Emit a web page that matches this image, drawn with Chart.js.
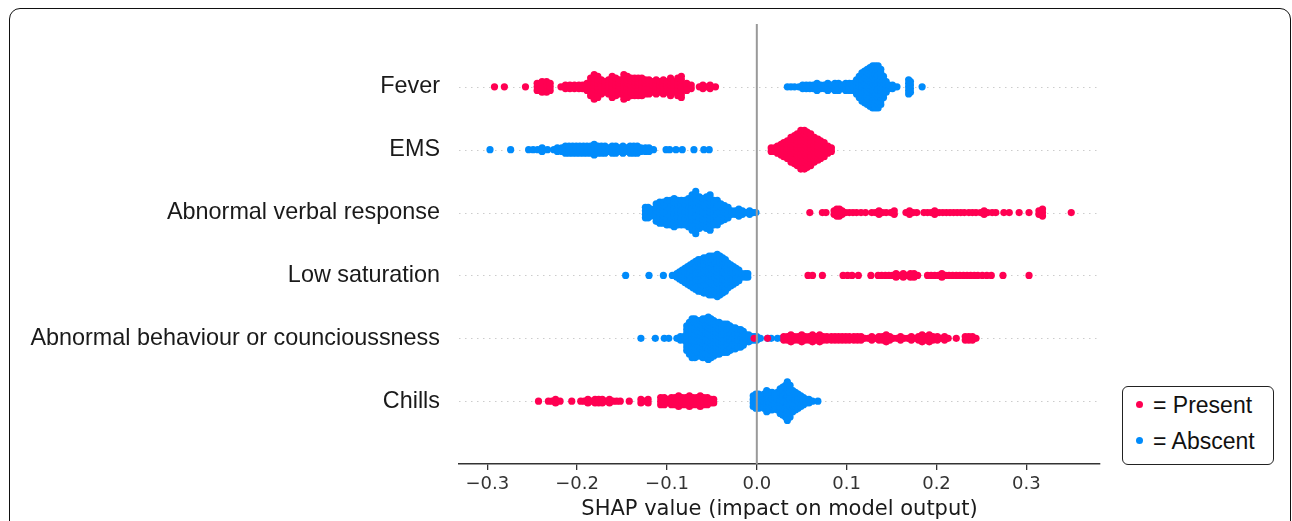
<!DOCTYPE html>
<html>
<head>
<meta charset="utf-8">
<script src="https://cdn.jsdelivr.net/npm/chart.js@4.4.0/dist/chart.umd.min.js"></script>
<style>
  body { margin:0; background:#fff; overflow:hidden; width:1292px; height:521px; position:relative; }
  #frame { position:absolute; left:9px; top:8px; width:1282px; height:560px; border:1.5px solid #111; border-radius:11px; box-sizing:border-box; }
  #chart { position:absolute; left:0; top:0; }
  #legend { position:absolute; left:1122px; top:386px; width:152px; height:79px; border:1.5px solid #222; border-radius:6px; box-sizing:border-box;
            font-family:'Liberation Sans', Arial, sans-serif; font-size:23px; color:#111; background:#fff; }
  #legend .item { position:absolute; left:13px; height:26px; line-height:26px; white-space:nowrap; }
  #legend .dot { display:inline-block; width:7px; height:7px; border-radius:50%; vertical-align:middle; margin-right:10px; position:relative; top:-2px; }
</style>
</head>
<body>
<div id="frame"></div>
<canvas id="chart" width="1292" height="521"></canvas>
<div id="legend">
  <div class="item" style="top:5px"><span class="dot" style="background:#ff0052"></span>= Present</div>
  <div class="item" style="top:41px"><span class="dot" style="background:#008bfb"></span>= Abscent</div>
</div>
<script>
// features top to bottom
var features = ['Fever', 'EMS', 'Abnormal verbal response', 'Low saturation',
                'Abnormal behaviour or councioussness', 'Chills'];
var xTicks = [-0.3, -0.2, -0.1, 0.0, 0.1, 0.2, 0.3];

// [shap value, dots stacked at that value]
var feverPresent = [[-0.292,1],[-0.281,1],[-0.2575,1],[-0.2445,3],[-0.239,4],[-0.234,4],[-0.230,3],
  [-0.218,1],[-0.213,2],[-0.208,2],[-0.203,2],[-0.198,2],[-0.194,2],[-0.189,3],[-0.185,6],[-0.181,8],[-0.177,7],
  [-0.173,5],[-0.169,4],[-0.165,5],[-0.161,7],[-0.157,6],[-0.153,5],[-0.148,8],[-0.144,7],[-0.140,6],[-0.136,6],
  [-0.132,6],[-0.128,6],[-0.124,5],[-0.120,5],[-0.116,4],[-0.112,5],[-0.108,4],[-0.104,5],[-0.100,4],[-0.096,6],
  [-0.092,4],[-0.088,6],[-0.084,7],[-0.078,3],[-0.073,2],[-0.064,1],[-0.060,2],[-0.055,1],[-0.052,2],[-0.046,1]];
var feverAbsent = [[0.034,1],[0.038,1],[0.042,1],[0.047,1],[0.051,2],[0.055,2],[0.059,2],[0.063,2],[0.067,3],
  [0.071,2],[0.075,2],[0.079,3],[0.083,2],[0.087,3],[0.091,3],[0.095,2],[0.099,3],[0.103,3],[0.107,3],[0.111,5],
  [0.114,7],[0.117,9],[0.120,10],[0.123,11],[0.126,12],[0.129,13],[0.132,13],[0.135,13],[0.138,11],[0.141,7],
  [0.144,4],[0.147,2],[0.151,2],[0.156,1],[0.169,5],[0.171,4],[0.184,1]];
var emsPresent = [[0.016,2],[0.020,2],[0.023,3],[0.027,4],[0.030,5],[0.034,6],[0.038,8],[0.042,9],[0.045,10],
  [0.049,12],[0.053,12],[0.056,11],[0.060,10],[0.064,8],[0.068,7],[0.071,6],[0.075,5],[0.079,3],[0.083,2]];
var emsAbsent = [[-0.297,1],[-0.274,1],[-0.254,1],[-0.249,1],[-0.244,1],[-0.239,2],[-0.233,1],[-0.226,1],
  [-0.222,2],[-0.217,2],[-0.213,3],[-0.209,3],[-0.205,3],[-0.201,3],[-0.197,3],[-0.193,3],[-0.189,3],[-0.185,3],
  [-0.181,4],[-0.177,3],[-0.173,3],[-0.169,3],[-0.165,2],[-0.161,3],[-0.157,3],[-0.153,2],[-0.149,3],[-0.145,2],
  [-0.141,3],[-0.137,3],[-0.133,3],[-0.129,2],[-0.124,2],[-0.120,2],[-0.115,1],[-0.101,1],[-0.097,1],[-0.090,1],
  [-0.083,1],[-0.070,1],[-0.059,1],[-0.053,1]];
var verbalPresent = [[0.059,1],[0.073,1],[0.077,1],[0.086,2],[0.089,3],[0.092,3],[0.095,2],[0.099,1],[0.103,1],
  [0.107,1],[0.111,1],[0.116,1],[0.121,1],[0.128,1],[0.132,1],[0.136,2],[0.140,1],[0.144,1],[0.149,1],[0.153,2],
  [0.166,1],[0.170,2],[0.174,1],[0.178,1],[0.186,1],[0.190,1],[0.194,1],[0.198,2],[0.203,1],[0.207,1],[0.211,1],
  [0.215,1],[0.219,1],[0.223,1],[0.227,1],[0.231,1],[0.236,1],[0.240,1],[0.244,1],[0.249,1],[0.253,2],[0.257,1],
  [0.262,1],[0.266,1],[0.275,1],[0.281,1],[0.292,1],[0.303,1],[0.314,2],[0.318,3],[0.350,1]];
var verbalAbsent = [[-0.124,4],[-0.121,4],[-0.118,3],[-0.112,6],[-0.108,7],[-0.104,7],[-0.100,8],[-0.096,8],
  [-0.092,9],[-0.088,8],[-0.084,8],[-0.080,8],[-0.076,9],[-0.072,11],[-0.068,13],[-0.064,10],[-0.060,9],
  [-0.056,10],[-0.052,11],[-0.048,8],[-0.044,8],[-0.040,6],[-0.036,5],[-0.032,4],[-0.028,2],[-0.024,2],
  [-0.020,3],[-0.016,2],[-0.012,1],[-0.008,2],[-0.004,1],[-0.001,1]];
var lowsatPresent = [[0.057,1],[0.062,1],[0.073,1],[0.096,1],[0.101,1],[0.106,1],[0.113,1],[0.127,1],[0.135,1],
  [0.139,1],[0.143,1],[0.147,1],[0.151,1],[0.155,2],[0.159,1],[0.163,2],[0.167,1],[0.171,2],[0.175,2],[0.179,1],
  [0.190,1],[0.194,1],[0.198,1],[0.202,1],[0.206,2],[0.210,1],[0.214,1],[0.218,1],[0.222,1],[0.226,1],[0.230,1],
  [0.234,1],[0.238,1],[0.242,1],[0.246,1],[0.251,1],[0.256,1],[0.261,1],[0.274,1],[0.303,1]];
var lowsatAbsent = [[-0.146,1],[-0.120,1],[-0.104,1],[-0.094,1],[-0.089,2],[-0.086,3],[-0.083,4],[-0.080,5],
  [-0.077,6],[-0.074,7],[-0.071,8],[-0.068,9],[-0.065,10],[-0.062,10],[-0.059,11],[-0.056,11],[-0.053,12],
  [-0.050,12],[-0.047,12],[-0.044,13],[-0.041,12],[-0.038,11],[-0.035,10],[-0.032,8],[-0.029,7],[-0.026,6],
  [-0.023,5],[-0.020,4],[-0.017,2],[-0.013,2],[-0.010,2]];
var behavPresent = [[-0.003,1],[0.012,1],[0.030,2],[0.034,2],[0.038,3],[0.042,2],[0.046,2],[0.050,3],[0.054,2],
  [0.058,2],[0.062,3],[0.066,2],[0.070,3],[0.074,2],[0.078,2],[0.083,2],[0.087,2],[0.091,2],[0.095,2],[0.099,2],
  [0.103,2],[0.108,2],[0.112,2],[0.116,2],[0.120,1],[0.124,1],[0.128,2],[0.132,1],[0.136,2],[0.140,2],[0.144,3],
  [0.148,2],[0.152,1],[0.156,1],[0.160,2],[0.164,1],[0.168,1],[0.172,2],[0.176,1],[0.180,2],[0.184,3],[0.188,2],
  [0.192,3],[0.196,2],[0.201,2],[0.205,1],[0.209,2],[0.213,1],[0.222,1],[0.232,2],[0.236,2],[0.240,2],[0.244,1]];
var behavAbsent = [[-0.129,1],[-0.113,1],[-0.103,1],[-0.098,1],[-0.089,1],[-0.085,2],[-0.081,2],[-0.078,8],
  [-0.075,10],[-0.072,12],[-0.069,12],[-0.066,11],[-0.063,11],[-0.060,12],[-0.057,12],[-0.054,13],[-0.051,12],
  [-0.048,11],[-0.045,10],[-0.042,10],[-0.039,9],[-0.036,9],[-0.033,9],[-0.030,8],[-0.027,7],[-0.024,7],
  [-0.021,6],[-0.018,6],[-0.015,5],[-0.012,3],[-0.009,3],[-0.006,2],[-0.003,2],[0.000,2],[0.004,1],[0.012,1],
  [0.016,1],[0.023,1],[0.028,1]];
var chillsPresent = [[-0.243,1],[-0.232,1],[-0.228,1],[-0.224,2],[-0.219,1],[-0.206,1],[-0.196,1],[-0.192,1],
  [-0.188,2],[-0.184,1],[-0.180,2],[-0.176,2],[-0.172,2],[-0.168,1],[-0.164,2],[-0.160,1],[-0.156,1],[-0.152,1],
  [-0.142,1],[-0.129,2],[-0.125,1],[-0.121,2],[-0.107,3],[-0.103,3],[-0.099,2],[-0.095,3],[-0.091,3],[-0.087,4],
  [-0.083,3],[-0.079,3],[-0.075,4],[-0.071,3],[-0.067,3],[-0.063,4],[-0.059,3],[-0.055,3],[-0.051,2],[-0.048,2]];
var chillsAbsent = [[-0.004,4],[-0.001,5],[0.002,5],[0.005,4],[0.008,5],[0.011,7],[0.014,6],[0.017,6],[0.020,5],
  [0.023,6],[0.026,8],[0.029,9],[0.032,10],[0.034,12],[0.037,10],[0.040,7],[0.043,6],[0.046,5],[0.049,4],
  [0.052,3],[0.055,2],[0.058,2],[0.062,1],[0.068,1]];

var presentRows = [feverPresent, emsPresent, verbalPresent, lowsatPresent, behavPresent, chillsPresent];
var absentRows = [feverAbsent, emsAbsent, verbalAbsent, lowsatAbsent, behavAbsent, chillsAbsent];

var RED = '#ff0052', BLUE = '#008bfb';
var STEP = 0.056; // vertical spacing of stacked dots, in rows

function swarm(rows) {
  var pts = [];
  rows.forEach(function(row, i) {
    var r = features.length - 1 - i;
    row.forEach(function(p) {
      var n = p[1];
      for (var k = 0; k < n; k++) pts.push({x: p[0], y: r + (k - (n - 1) / 2) * STEP});
    });
  });
  return pts;
}

var guides = {
  id: 'guides',
  beforeDatasetsDraw: function(chart) {
    var c = chart.ctx, a = chart.chartArea, y = chart.scales.y;
    c.save();
    c.strokeStyle = '#cccccc'; c.lineWidth = 1; c.setLineDash([1.5, 4.5]);
    features.forEach(function(f, i) {
      var py = Math.round(y.getPixelForValue(features.length - 1 - i)) + 0.5;
      c.beginPath(); c.moveTo(a.left, py); c.lineTo(a.right, py); c.stroke();
    });
    c.restore();
  },
  afterDatasetsDraw: function(chart) {
    var c = chart.ctx, a = chart.chartArea, x = chart.scales.x;
    var px = x.getPixelForValue(0);
    c.save();
    c.strokeStyle = '#999999'; c.lineWidth = 2;
    c.beginPath(); c.moveTo(px, a.top); c.lineTo(px, a.bottom); c.stroke();
    c.restore();
  }
};

new Chart(document.getElementById('chart'), {
  type: 'scatter',
  data: {
    datasets: [
      {label: 'Present', data: swarm(presentRows), backgroundColor: RED, borderWidth: 0, pointRadius: 3.6, order: 0},
      {label: 'Abscent', data: swarm(absentRows), backgroundColor: BLUE, borderWidth: 0, pointRadius: 3.6, order: 1}
    ]
  },
  options: {
    responsive: false,
    animation: false,
    events: [],
    layout: {padding: {top: 24, right: 192, left: 0, bottom: 0}},
    plugins: {legend: {display: false}, tooltip: {enabled: false}},
    scales: {
      x: {
        type: 'linear', min: -0.3315, max: 0.382,
        afterBuildTicks: function(s) { s.ticks = xTicks.map(function(v) { return {value: v}; }); },
        afterFit: function(s) { s.height = 57; s.paddingLeft = 0; s.paddingRight = 0; },
        ticks: {
          autoSkip: false, maxRotation: 0, padding: 4, color: '#333',
          font: {family: 'DejaVu Sans', size: 18},
          callback: function(v) { return (v < -1e-9 ? '\u2212' : '') + Math.abs(v).toFixed(1); }
        },
        grid: {display: true, drawOnChartArea: false, drawTicks: true, tickLength: 6, color: '#333', lineWidth: 1.3},
        border: {display: true, color: '#333', width: 1.5},
        title: {display: true, text: 'SHAP value (impact on model output)', color: '#1a1a1a',
                font: {family: 'DejaVu Sans', size: 21}, padding: {top: 0, bottom: -1}}
      },
      y: {
        type: 'linear', min: -1, max: 6,
        afterBuildTicks: function(s) { s.ticks = features.map(function(f, i) { return {value: features.length - 1 - i}; }); },
        afterFit: function(s) { s.width = 459; s.paddingTop = 0; s.paddingBottom = 0; },
        ticks: {
          padding: 19, color: '#1a1a1a',
          font: {family: 'Liberation Sans', size: 23.4},
          callback: function(v) { return features[features.length - 1 - v]; }
        },
        grid: {display: false, drawTicks: false},
        border: {display: false}
      }
    }
  },
  plugins: [guides]
});
</script>
</body>
</html>
